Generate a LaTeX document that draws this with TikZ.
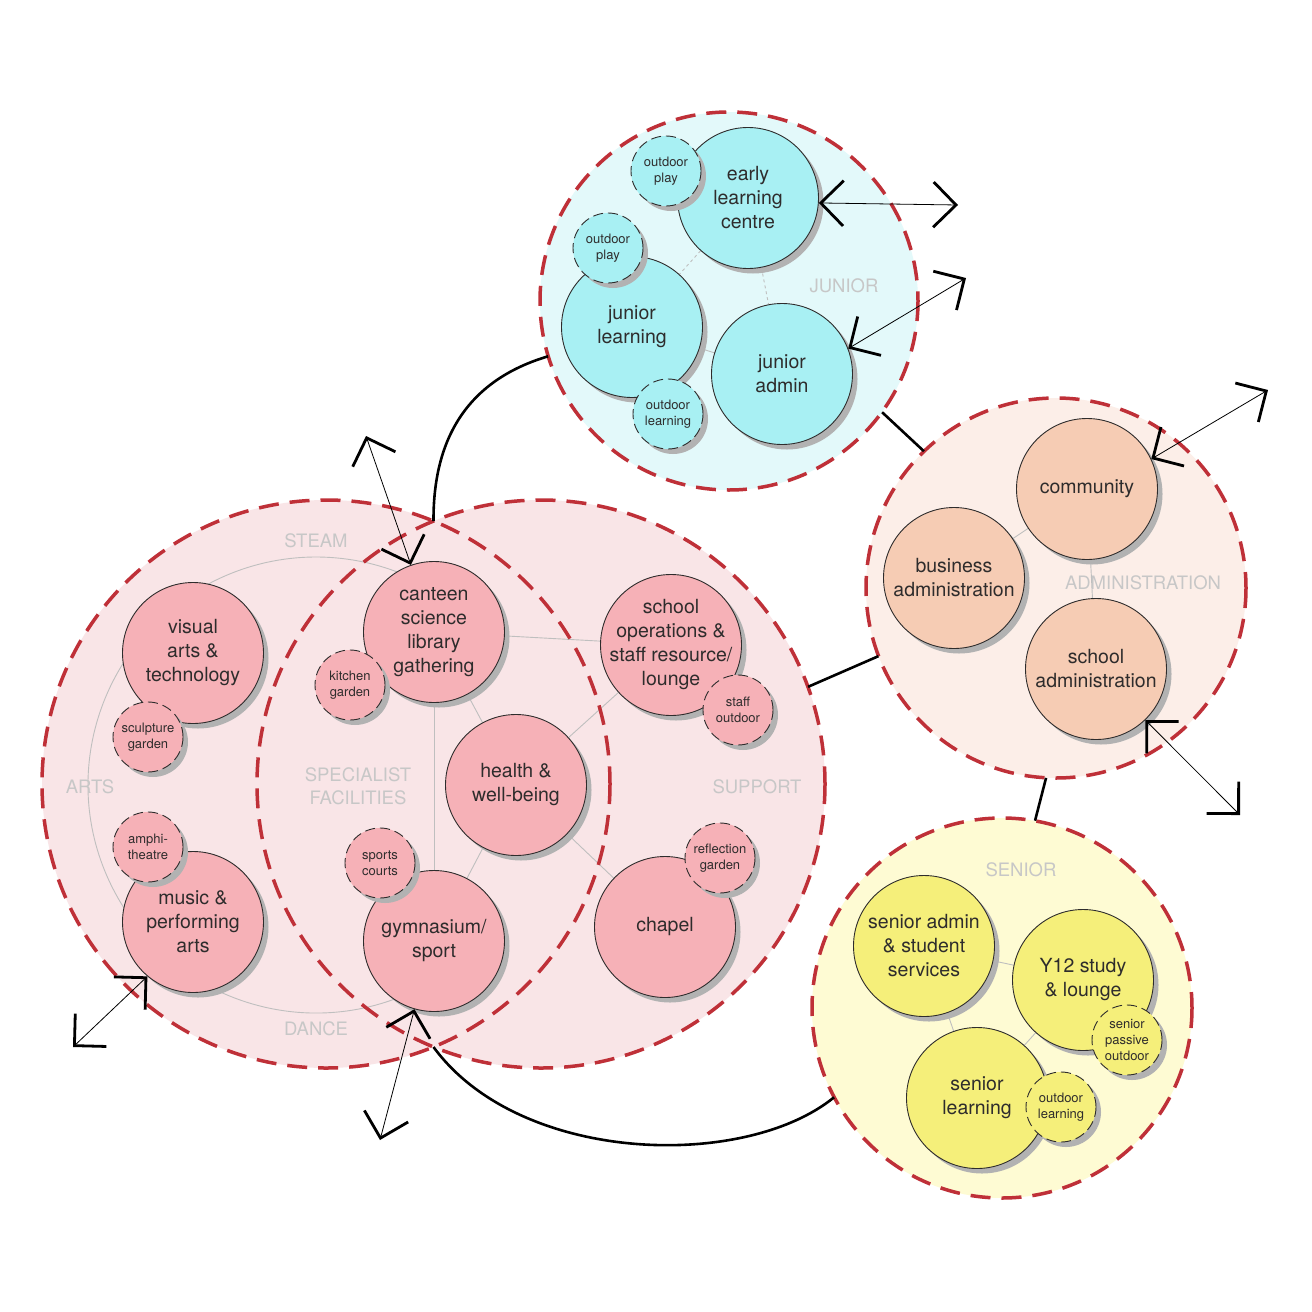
\documentclass[tikz,border=0pt]{standalone}
\usepackage{fontspec}
\setmainfont{TeX Gyre Heros}
\usepackage{tikz}
\usetikzlibrary{arrows.meta,shadows,backgrounds}
\definecolor{zred}{HTML}{BF3038}
\definecolor{ink}{HTML}{2E2C2C}
\definecolor{jrzone}{HTML}{E3F9FA}
\definecolor{jrroom}{HTML}{A8F0F3}
\definecolor{adzone}{HTML}{FCEEE8}
\definecolor{adroom}{HTML}{F6CCB4}
\definecolor{srzone}{HTML}{FEFBD3}
\definecolor{srroom}{HTML}{F5EF7A}
\definecolor{pkzone}{HTML}{F9E5E7}
\definecolor{pkroom}{HTML}{F6B1B7}

\begin{document}
\begin{tikzpicture}[x=1pt,y=-1pt,
  gate/.tip={Straight Barb[angle=90:32pt,line width=2.8pt,sharp]},
  bub/.style={circle,draw=ink,line width=0.9pt,inner sep=0pt,
     drop shadow={shadow xshift=5pt,shadow yshift=-5pt,fill=black!30,opacity=1}},
  room/.style={bub,minimum size=141pt,label={[rtxt]center:#1}},
  patch/.style={bub,minimum size=70pt,dash pattern=on 10pt off 5pt,
     label={[ptxt]center:#1}},
  rtxt/.style={align=center,text=ink,font=\fontsize{19.5}{24}\selectfont},
  ptxt/.style={align=center,text=ink,font=\fontsize{13}{16}\selectfont},
  zone/.style={circle,inner sep=0pt,minimum size=#1},
  zlbl/.style={text=black!22,align=center,font=\fontsize{18.5}{23}\selectfont},
  zline/.style={draw=zred,line width=3.5pt,dash pattern=on 20pt off 11pt},
  tie/.style={draw=black!25,line width=0.9pt},
  link/.style={draw=black,line width=2.6pt},
  ext/.style={draw=black,line width=0.8pt,gate-gate}]

\useasboundingbox (0,0) rectangle (1312,1312);

% junior
\node[room={early\\learning\\centre},fill=jrroom] (early) at (748,198) {};
\node[patch={outdoor\\play},fill=jrroom] (jplay) at (666,171) {};
\node[room={junior\\learning},fill=jrroom] (jlearn) at (632,327) {};
\node[patch={outdoor\\play},fill=jrroom] (jplay2) at (608,248) {};
\node[patch={outdoor\\learning},fill=jrroom] (jout) at (668,414) {};
\node[room={junior\\admin},fill=jrroom] (jadmin) at (782,374) {};

% administration
\node[room={community},fill=adroom] (comm) at (1087,489) {};
\node[room={business\\administration},fill=adroom] (busi) at (954,578) {};
\node[room={school\\administration},fill=adroom] (sadmin) at (1096,669) {};

% senior
\node[room={senior admin\\\& student\\services},fill=srroom] (snadmin) at (924,946) {};
\node[room={Y12 study\\\& lounge},fill=srroom] (y12) at (1083,980) {};
\node[patch={senior\\passive\\outdoor},fill=srroom] (spass) at (1127,1040) {};
\node[room={senior\\learning},fill=srroom] (slearn) at (977,1098) {};
\node[patch={outdoor\\learning},fill=srroom] (sout) at (1061,1107) {};

% steam + support
\node[room={visual\\arts \&\\technology},fill=pkroom] (visual) at (193,653) {};
\node[patch={sculpture\\garden},fill=pkroom] (sculpt) at (148,737) {};
\node[room={music \&\\performing\\arts},fill=pkroom] (music) at (193,922) {};
\node[patch={amphi-\\theatre},fill=pkroom] (amphi) at (148,847) {};
\node[room={canteen\\science\\library\\gathering},fill=pkroom] (canteen) at (434,632) {};
\node[patch={kitchen\\garden},fill=pkroom] (kitchen) at (350,685) {};
\node[room={health \&\\well-being},fill=pkroom] (health) at (516,785) {};
\node[room={school\\operations \&\\staff resource/\\lounge},fill=pkroom] (ops) at (671,645) {};
\node[patch={staff\\outdoor},fill=pkroom] (staffout) at (738,710) {};
\node[room={chapel},fill=pkroom] (chapel) at (665,927) {};
\node[patch={reflection\\garden},fill=pkroom] (reflect) at (720,858) {};
\node[room={gymnasium/\\sport},fill=pkroom] (gym) at (434,941) {};
\node[patch={sports\\courts},fill=pkroom] (courts) at (380,863) {};

\begin{scope}[on background layer]
  \fill[white] (0,0) rectangle (1312,1312);
  \node[zone=568,fill=pkzone] (steam) at (326,784) {};
  \node[zone=568,fill=pkzone] (support) at (541,784) {};
  \node[zone=378,fill=jrzone] (junior) at (729,301) {};
  \node[zone=380,fill=adzone] (admin) at (1056,588) {};
  \node[zone=380,fill=srzone] (senior) at (1002,1008) {};
  \draw[tie] (316,785) ++(62:228) arc[start angle=62,end angle=298,radius=228];
  \draw[tie] (canteen) -- (ops);
  \draw[tie] (canteen) -- (gym);
  \draw[tie] (canteen) -- (health);
  \draw[tie] (health) -- (ops);
  \draw[tie] (health) -- (gym);
  \draw[tie] (health) -- (chapel);
  \draw[tie,dashed] (early) -- (jlearn);
  \draw[tie,dashed] (early) -- (jadmin);
  \draw[tie] (jlearn) -- (jadmin);
  \draw[tie] (busi) -- (comm);
  \draw[tie] (comm) -- (sadmin);
  \draw[tie] (snadmin) -- (y12);
  \draw[tie] (snadmin) -- (slearn);
  \draw[tie] (slearn) -- (y12);
  \node[zlbl] at (316,541) {STEAM};
  \node[zlbl] at (90,787) {ARTS};
  \node[zlbl] at (316,1029) {DANCE};
  \node[zlbl] at (358,786) {SPECIALIST\\FACILITIES};
  \node[zlbl] at (757,787) {SUPPORT};
  \node[zlbl] at (844,286) {JUNIOR};
  \node[zlbl] at (1143,583) {ADMINISTRATION};
  \node[zlbl] at (1021,870) {SENIOR};
\end{scope}

\draw[zline] (steam) circle[radius=284];
\draw[zline] (support) circle[radius=284];
\draw[zline] (junior) circle[radius=189];
\draw[zline] (admin) circle[radius=190];
\draw[zline] (senior) circle[radius=190];

\coordinate (tx) at (433.5,521);
\coordinate (bx) at (433.5,1047);
\draw[link] (junior.197) .. controls (475,378) and (433,430) .. (tx);
\draw[link] (senior.208) .. controls (745,1170) and (520,1165) .. (bx);
\draw[link] (junior.-36) -- (admin.134);
\draw[link] (support.20) -- (admin.201);
\draw[link] (admin.-93) -- (senior.80);

\coordinate (eE) at (958,205);
\coordinate (jaE) at (966,278);
\coordinate (cE) at (1268,390);
\coordinate (saE) at (1240,815);
\coordinate (mE) at (73,1047);
\coordinate (gE) at (380,1140);
\coordinate (caE) at (366,436);
\draw[ext] (early.-4) -- (eE);
\draw[ext] (jadmin.21) -- (jaE);
\draw[ext] (comm.25) -- (cE);
\draw[ext] (sadmin.-46) -- (saE);
\draw[ext] (music.230) -- (mE);
\draw[ext] (gym.254) -- (gE);
\draw[ext] (canteen.109) -- (caE);
\end{tikzpicture}
\end{document}
